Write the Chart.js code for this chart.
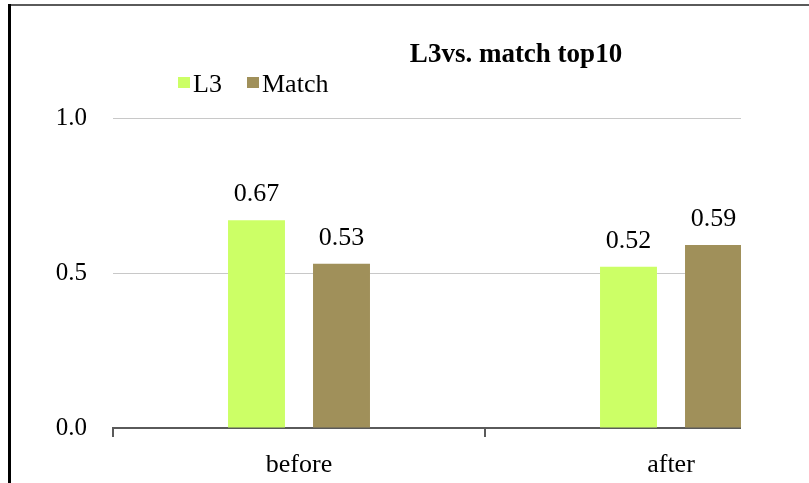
<!DOCTYPE html>
<html>
<head>
<meta charset="utf-8">
<script src="https://cdn.jsdelivr.net/npm/chart.js@4.4.1/dist/chart.umd.min.js"></script>
<style>
  html, body { margin: 0; padding: 0; background: #fff; }
  #page { position: relative; width: 809px; height: 483px; overflow: hidden; background: #fff; }
  #plotClip { position: absolute; left: 0; top: 0; width: 741px; height: 483px; overflow: hidden; }
  #plotClip canvas { position: absolute; left: 0; top: 0; }
  #frameTop { position: absolute; left: 8px; top: 4px; width: 801px; height: 2px; background: #5a5a5a; }
  #frameLeft { position: absolute; left: 8px; top: 4px; width: 3px; height: 479px; background: #000; }
</style>
</head>
<body>
<div id="page">
  <div id="plotClip"><canvas id="chart" width="870" height="483"></canvas></div>
  <div id="frameTop"></div>
  <div id="frameLeft"></div>
</div>
<script>
// Chart content
const chartTitle = 'L3vs. match top10';
const categories = ['before', 'after'];
const seriesNames = ['L3', 'Match'];
const l3Values = [0.67, 0.52];
const matchValues = [0.53, 0.59];
const yTickValues = [0.0, 0.5, 1.0];

const SERIF = '"Liberation Serif", "Times New Roman", serif';
const seriesColors = ['#ccff66', '#a0905a'];

// Title and legend, drawn in the upper band above the plot
const headerPlugin = {
  id: 'header',
  afterDraw(chart) {
    const ctx = chart.ctx;
    ctx.save();
    ctx.fillStyle = '#000';
    ctx.font = 'bold 27px ' + SERIF;
    ctx.textAlign = 'center';
    ctx.textBaseline = 'alphabetic';
    ctx.fillText(chartTitle, 516, 62);

    ctx.font = '26px ' + SERIF;
    ctx.textAlign = 'left';
    const starts = [178, 247];
    chart.data.datasets.forEach((ds, i) => {
      const x = starts[i];
      ctx.fillStyle = ds.backgroundColor;
      ctx.fillRect(x, 77, 12, 11);
      ctx.fillStyle = '#000';
      ctx.fillText(ds.label, x + 15, 92);
    });
    ctx.restore();
  }
};

// Value labels above each bar
const valueLabelPlugin = {
  id: 'valueLabels',
  afterDatasetsDraw(chart) {
    const ctx = chart.ctx;
    ctx.save();
    ctx.fillStyle = '#000';
    ctx.font = '26px ' + SERIF;
    ctx.textAlign = 'center';
    ctx.textBaseline = 'alphabetic';
    chart.data.datasets.forEach((ds, di) => {
      const meta = chart.getDatasetMeta(di);
      meta.data.forEach((bar, i) => {
        ctx.fillText(ds.data[i].toFixed(2), bar.x, bar.y - 19);
      });
    });
    ctx.restore();
  }
};

new Chart(document.getElementById('chart'), {
  type: 'bar',
  data: {
    labels: categories,
    datasets: [
      { label: seriesNames[0], data: l3Values, backgroundColor: seriesColors[0] },
      { label: seriesNames[1], data: matchValues, backgroundColor: seriesColors[1] }
    ]
  },
  options: {
    responsive: false,
    devicePixelRatio: 1,
    animation: false,
    layout: { padding: { left: 0, right: 13, top: 118, bottom: 0 } },
    datasets: { bar: { categoryPercentage: 0.457, barPercentage: 0.67 } },
    plugins: {
      legend: { display: false },
      title: { display: false },
      tooltip: { enabled: false }
    },
    scales: {
      x: {
        grid: { offset: true, drawOnChartArea: false, drawTicks: true, tickLength: 9, color: '#5a5a5a', lineWidth: 2 },
        border: { display: true, color: '#5a5a5a', width: 2 },
        ticks: { color: '#000', padding: 13, font: { family: SERIF, size: 26 } },
        afterFit(scale) { scale.height = 55; }
      },
      y: {
        min: 0,
        max: 1,
        afterBuildTicks(scale) { scale.ticks = yTickValues.map(v => ({ value: v })); },
        grid: { color: '#c8c8c8', lineWidth: 1, drawTicks: false },
        border: { display: false },
        ticks: {
          color: '#000',
          padding: 26,
          font: { family: SERIF, size: 25 },
          callback: v => Number(v).toFixed(1)
        },
        afterFit(scale) { scale.width = 113; }
      }
    }
  },
  plugins: [headerPlugin, valueLabelPlugin]
});
</script>
</body>
</html>
